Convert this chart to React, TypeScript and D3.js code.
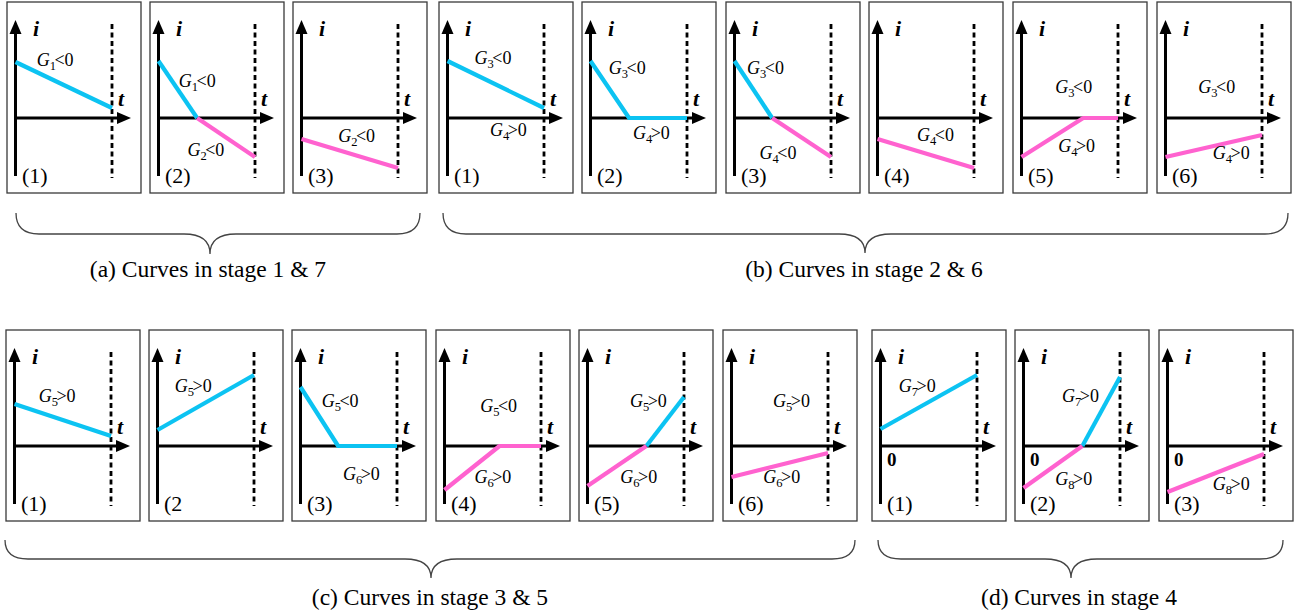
import React from "react";
import * as d3 from "d3";

// panel numbers, row by row
const panelNumbers = [
  "(1)", "(2)", "(3)", "(1)", "(2)", "(3)", "(4)", "(5)", "(6)",
  "(1)", "(2", "(3)", "(4)", "(5)", "(6)", "(1)", "(2)", "(3)",
];

// curve points: [t fraction up to dashed line, i]
const blueCurves: [number, number][][] = [
  [[0, 5.6], [1, 1.0]],
  [[0, 5.7], [0.4, 0]],
  [],
  [[0, 5.7], [1, 1.0]],
  [[0, 5.7], [0.4, 0], [1, 0]],
  [[0, 5.7], [0.39, 0]],
  [],
  [],
  [],
  [[0, 4.2], [1, 1.0]],
  [[0, 1.6], [1, 7.1]],
  [[0, 5.9], [0.39, 0], [1, 0]],
  [],
  [[0.61, 0], [1, 4.9]],
  [],
  [[0, 1.7], [1, 7.1]],
  [[0.61, 0], [1, 6.9]],
  [],
];

const pinkCurves: [number, number][][] = [
  [],
  [[0.4, 0], [1, -3.9]],
  [[0, -2.1], [1, -5.0]],
  [],
  [],
  [[0.39, 0], [1, -3.9]],
  [[0, -2.1], [1, -5.0]],
  [[0, -3.9], [0.64, 0], [1, 0]],
  [[0, -3.9], [1, -1.7]],
  [],
  [],
  [],
  [[0, -4.4], [0.57, 0], [1, 0]],
  [[0, -4.0], [0.61, 0]],
  [[0, -3.1], [1, -0.7]],
  [],
  [[0, -4.2], [0.61, 0]],
  [[0, -4.6], [1, -0.8]],
];

// condition labels: [subscript, relation, t, i]
const curveLabels: [string, string, number, number][][] = [
  [["1", "<0", 0.22, 5.2]],
  [["1", "<0", 0.21, 3.1], ["2", "<0", 0.3, -3.8]],
  [["2", "<0", 0.38, -2.4]],
  [["3", "<0", 0.28, 5.4], ["4", ">0", 0.44, -1.8]],
  [["3", "<0", 0.19, 4.4], ["4", ">0", 0.44, -2.1]],
  [["3", "<0", 0.13, 4.4], ["4", "<0", 0.26, -4.1]],
  [["4", "<0", 0.41, -2.3]],
  [["3", "<0", 0.35, 2.5], ["4", ">0", 0.38, -3.4]],
  [["3", "<0", 0.34, 2.5], ["4", ">0", 0.49, -4.1]],
  [["5", ">0", 0.25, 4.4]],
  [["5", ">0", 0.18, 5.4]],
  [["5", "<0", 0.22, 3.9], ["6", ">0", 0.44, -3.4]],
  [["5", "<0", 0.37, 3.4], ["6", ">0", 0.31, -3.7]],
  [["5", ">0", 0.44, 3.9], ["6", ">0", 0.34, -3.7]],
  [["5", ">0", 0.43, 3.9], ["6", ">0", 0.33, -3.7]],
  [["7", ">0", 0.19, 5.4]],
  [["7", ">0", 0.4, 4.4], ["8", ">0", 0.33, -3.9]],
  [["8", ">0", 0.47, -4.4]],
];

// panels that mark the origin with "0"
const zeroPanels = [15, 16, 17];

const groupCaptions = [
  "(a) Curves in stage 1 & 7",
  "(b) Curves in stage 2 & 6",
  "(c) Curves in stage 3 & 5",
  "(d) Curves in stage 4",
];

// layout
const panelX = [7, 150, 293, 439, 582, 726, 869, 1013, 1157, 6, 149, 292, 436, 579, 723, 872, 1015, 1159];
const rowY = [2, 330];
const panelW = 134;
const panelH = 191;
const braces = [
  { x1: 16, x2: 420, top: 213, mid: 234, tip: 254, tx: 210, cx: 208, by: 277 },
  { x1: 443, x2: 1288, top: 213, mid: 234, tip: 253, tx: 865, cx: 864, by: 277 },
  { x1: 5, x2: 855, top: 540, mid: 559, tip: 578, tx: 431, cx: 430, by: 605 },
  { x1: 878, x2: 1283, top: 540, mid: 559, tip: 578, tx: 1071, cx: 1079, by: 605 },
];

const BLUE = "#0cc3f2";
const PINK = "#ff62cf";
const SERIF = "'Liberation Serif', 'Times New Roman', serif";

const x = d3.scaleLinear().domain([0, 1]).range([8.5, 105]);
const y = d3.scaleLinear().domain([0, 1]).range([116, 106]);
const line = d3
  .line<[number, number]>()
  .x((d) => x(d[0]))
  .y((d) => y(d[1]));

function bracePath(b: typeof braces[number]) {
  const r = 23;
  return [
    `M${b.x1},${b.top}`,
    `Q${b.x1},${b.mid} ${b.x1 + r},${b.mid}`,
    `L${b.tx - 26},${b.mid}`,
    `Q${b.tx},${b.mid} ${b.tx},${b.tip}`,
    `Q${b.tx},${b.mid} ${b.tx + 26},${b.mid}`,
    `L${b.x2 - r},${b.mid}`,
    `Q${b.x2},${b.mid} ${b.x2},${b.top}`,
  ].join(" ");
}

function Panel({ idx }: { idx: number }) {
  const px = panelX[idx];
  const py = rowY[idx < 9 ? 0 : 1];
  const ax = x(0);
  const ay = y(0);
  return (
    <g transform={`translate(${px},${py})`}>
      <rect x={0} y={0} width={panelW} height={panelH} fill="#fff" stroke="#3a3a3a" strokeWidth={1.3} />
      {/* dashed end-of-stage line */}
      <line x1={x(1)} x2={x(1)} y1={22} y2={176} stroke="#000" strokeWidth={2.8} strokeDasharray="5,3.5" />
      {/* axes */}
      <line x1={ax} x2={ax} y1={174} y2={28} stroke="#000" strokeWidth={3} />
      <path d={`M${ax},${18} L${ax - 6},${32} L${ax + 6},${32} Z`} fill="#000" />
      <line x1={ax} x2={113} y1={ay} y2={ay} stroke="#000" strokeWidth={3} />
      <path d={`M${124},${ay} L${110},${ay - 6} L${110},${ay + 6} Z`} fill="#000" />
      <text x={26} y={34} fontFamily={SERIF} fontSize={22} fontWeight="bold" fontStyle="italic">i</text>
      <text x={111} y={104} fontFamily={SERIF} fontSize={22} fontWeight="bold" fontStyle="italic">t</text>
      {zeroPanels.includes(idx) && (
        <text x={15} y={136} fontFamily={SERIF} fontSize={19} fontWeight="bold">0</text>
      )}
      {blueCurves[idx].length > 0 && (
        <path d={line(blueCurves[idx]) ?? ""} fill="none" stroke={BLUE} strokeWidth={4.2} strokeLinejoin="round" />
      )}
      {pinkCurves[idx].length > 0 && (
        <path d={line(pinkCurves[idx]) ?? ""} fill="none" stroke={PINK} strokeWidth={4.2} strokeLinejoin="round" />
      )}
      {curveLabels[idx].map(([sub, rel, t, v], k) => (
        <text key={k} x={x(t)} y={y(v)} fontFamily={SERIF} fontSize={18}>
          <tspan fontStyle="italic">G</tspan>
          <tspan dy={4} fontSize={12.5}>{sub}</tspan>
          <tspan dy={-4} dx={-1.5}>{rel}</tspan>
        </text>
      ))}
      <text x={15} y={181} fontFamily={SERIF} fontSize={22}>{panelNumbers[idx]}</text>
    </g>
  );
}

export default function App() {
  return (
    <svg
      width={1302}
      height={616}
      style={{ position: "absolute", left: 0, top: 0, background: "#fff" }}
    >
      {panelNumbers.map((_, i) => (
        <Panel key={i} idx={i} />
      ))}
      {braces.map((b, i) => (
        <g key={i}>
          <path d={bracePath(b)} fill="none" stroke="#444" strokeWidth={1.3} />
          <text x={b.cx} y={b.by} textAnchor="middle" fontFamily={SERIF} fontSize={23.5}>
            {groupCaptions[i]}
          </text>
        </g>
      ))}
    </svg>
  );
}
